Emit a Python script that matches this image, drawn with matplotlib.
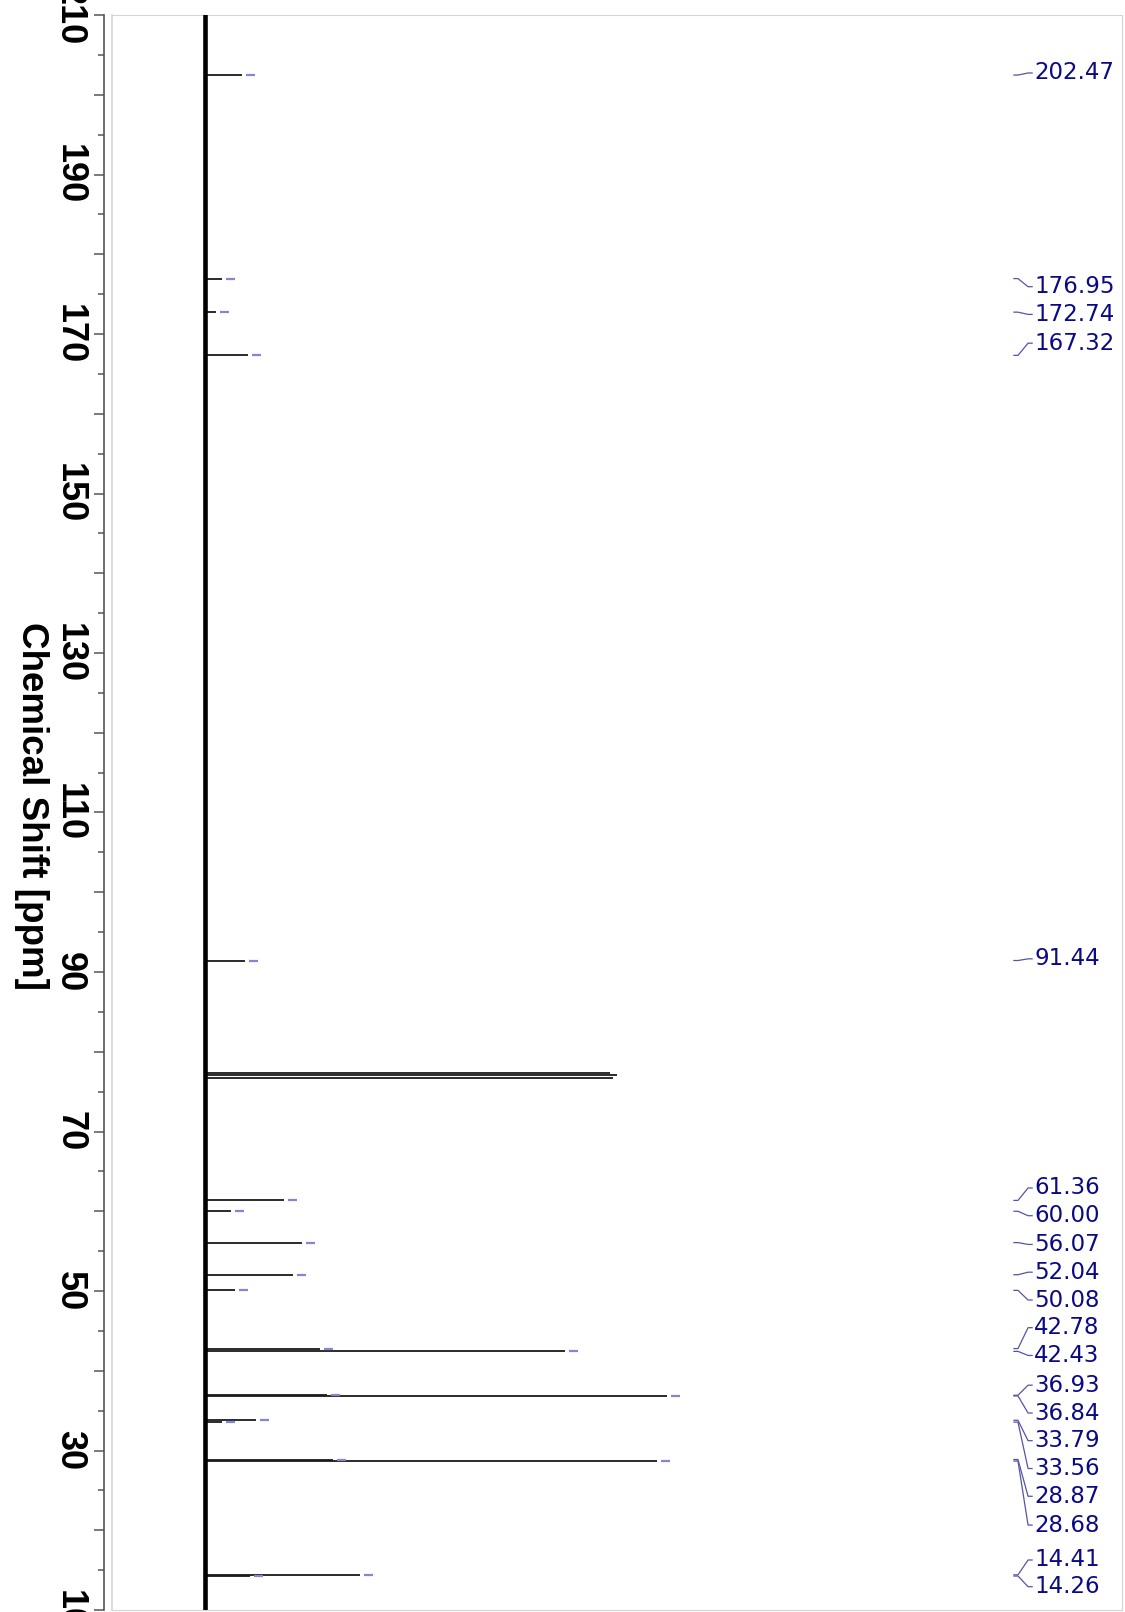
import matplotlib
matplotlib.use("Agg")
import matplotlib.pyplot as plt
from matplotlib.ticker import FixedLocator, FuncFormatter
from matplotlib.transforms import blended_transform_factory

# labelled peaks (ppm, intensity in arbitrary units)
shifts = [202.47, 176.95, 172.74, 167.32, 91.44, 61.36, 60.00, 56.07, 52.04, 50.08,
          42.78, 42.43, 36.93, 36.84, 33.79, 33.56, 28.87, 28.68, 14.41, 14.26]
heights = [37, 17, 11, 43, 40, 79, 26, 97, 88, 30,
           115, 360, 122, 462, 51, 17, 128, 452, 155, 45]
# where the software put each label (ppm), after spreading them out
label_ppm = [202.73, 175.93, 172.46, 168.85, 91.65, 62.92, 59.44, 55.84, 52.36, 48.87,
             45.40, 41.92, 38.19, 34.70, 31.23, 27.74, 24.26, 20.65, 16.27, 12.92]
# solvent triplet (CDCl3), not labelled
solvent_shifts = [77.36, 77.04, 76.72]
solvent_heights = [405, 412, 408]

fig = plt.figure(figsize=(11.25, 16.12), dpi=100)
ax = fig.add_axes([112/1125, 2/1612, 1010/1125, 1595/1612])

ax.set_ylim(10, 210)
ax.set_xlim(-93, 917)

# baseline
ax.axvline(0, color="black", lw=3.3, zorder=3)

# peaks
ax.hlines(solvent_shifts, 0, solvent_heights, color="#1a1a1a", lw=1.3)
ax.hlines(shifts, 0, heights, color="#1a1a1a", lw=1.3)
ax.hlines(shifts, [h + 4 for h in heights], [h + 13 for h in heights],
          color="#8585d6", lw=1.6)

# peak labels with leader lines
tr = blended_transform_factory(ax.transAxes, ax.transData)
x0 = 0.893
for s, lp in zip(shifts, label_ppm):
    ax.plot([x0, x0 + 0.004, x0 + 0.014, x0 + 0.018], [s, s, lp, lp],
            transform=tr, color="#5555a5", lw=0.9, clip_on=False)
    ax.text(x0 + 0.02, lp, f"{s:.2f}", transform=tr, color="#0a0a85",
            fontsize=16.5, family="DejaVu Sans", ha="left", va="center")

# frame
for side in ["top", "right", "bottom"]:
    ax.spines[side].set_color("#d4d4d4")
ax.spines["left"].set_position(("outward", 6))
ax.spines["left"].set_color("#555555")
ax.spines["left"].set_linewidth(1.2)
ax.plot([0, 0], [0, 1], transform=ax.transAxes, color="#d4d4d4", lw=1.2, clip_on=False)

ax.set_xticks([])
ax.yaxis.set_major_locator(FixedLocator(list(range(10, 211, 10))))
ax.yaxis.set_minor_locator(FixedLocator(list(range(15, 210, 10))))
ax.yaxis.set_major_formatter(FuncFormatter(lambda v, p: f"{v:.0f}" if int(v) % 20 == 10 else ""))
ax.tick_params(axis="y", which="major", length=7, width=1.1, color="#555555", pad=5)
ax.tick_params(axis="y", which="minor", length=4.5, width=1.1, color="#555555")
for lab in ax.get_yticklabels():
    lab.set_rotation(-90)
    lab.set_va("center")
    lab.set_fontsize(26)
    lab.set_fontweight("bold")
    lab.set_family("Liberation Sans")

fig.text(31/1125, 0.5, "Chemical Shift [ppm]", rotation=-90, ha="center", va="center",
         fontsize=26.5, fontweight="bold", family="Liberation Sans")

fig.savefig("out.png", dpi=100)
